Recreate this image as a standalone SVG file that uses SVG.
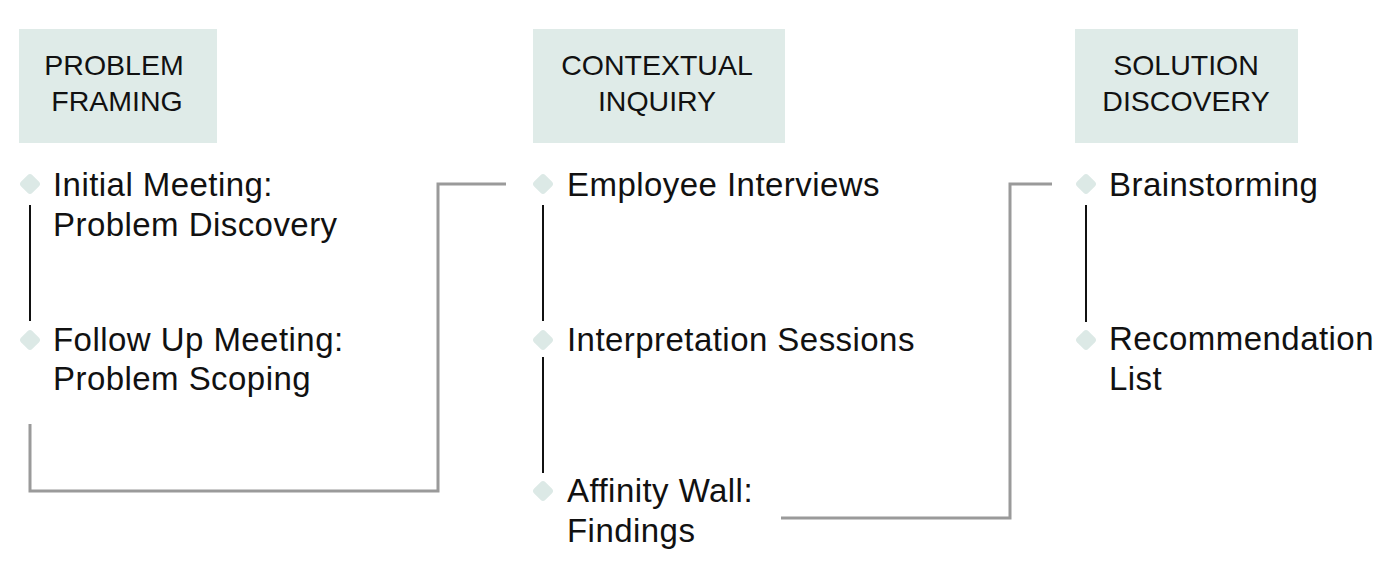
<svg xmlns="http://www.w3.org/2000/svg" width="1388" height="562" viewBox="0 0 1388 562">
<style>
.hdr{fill:#dfebe8}
.ht{font-family:"Liberation Sans",Arial,sans-serif;font-size:28.5px;fill:#111;text-anchor:middle}
.bt{font-family:"Liberation Sans",Arial,sans-serif;font-size:33px;fill:#111;letter-spacing:0.45px}
.blk{stroke:#111;stroke-width:2;fill:none}
.gry{stroke:#9a9a9a;stroke-width:3;fill:none}
</style>
<defs>
<rect id="dia" x="-8" y="-8" width="16" height="16" rx="3.5" transform="rotate(45)" fill="#dce9e6"/>
</defs>
<rect width="1388" height="562" fill="#fff"/>
<g id="connectors">
<path class="blk" d="M30 205V321"/>
<path class="blk" d="M543 205V321M543 357V473"/>
<path class="blk" d="M1086 205V322"/>
<path class="gry" d="M30 424V491H438V184H506"/>
<path class="gry" d="M781 518H1010V184H1052"/>
</g>
<g id="h-problem">
<rect class="hdr" x="19" y="29" width="198" height="114"/>
<text class="ht" x="114" y="75">PROBLEM</text>
<text class="ht" x="117" y="111">FRAMING</text>
</g>
<g id="h-contextual">
<rect class="hdr" x="533" y="29" width="252" height="114"/>
<text class="ht" x="657" y="75">CONTEXTUAL</text>
<text class="ht" x="657" y="111">INQUIRY</text>
</g>
<g id="h-solution">
<rect class="hdr" x="1075" y="29" width="223" height="114"/>
<text class="ht" x="1186" y="75">SOLUTION</text>
<text class="ht" x="1186" y="111">DISCOVERY</text>
</g>
<g id="n-initial">
<use href="#dia" x="30" y="184"/>
<text class="bt" x="53" y="196">Initial Meeting:</text>
<text class="bt" x="53" y="236">Problem Discovery</text>
</g>
<g id="n-followup">
<use href="#dia" x="30" y="340"/>
<text class="bt" x="53" y="351">Follow Up Meeting:</text>
<text class="bt" x="53" y="390">Problem Scoping</text>
</g>
<g id="n-employee">
<use href="#dia" x="543" y="184"/>
<text class="bt" x="567" y="196">Employee Interviews</text>
</g>
<g id="n-interpretation">
<use href="#dia" x="543" y="340"/>
<text class="bt" x="567" y="351">Interpretation Sessions</text>
</g>
<g id="n-affinity">
<use href="#dia" x="543" y="491"/>
<text class="bt" x="567" y="502">Affinity Wall:</text>
<text class="bt" x="567" y="542">Findings</text>
</g>
<g id="n-brainstorming">
<use href="#dia" x="1086" y="184"/>
<text class="bt" x="1109" y="196">Brainstorming</text>
</g>
<g id="n-recommendation">
<use href="#dia" x="1086" y="340"/>
<text class="bt" x="1109" y="350">Recommendation</text>
<text class="bt" x="1109" y="390">List</text>
</g>
</svg>
